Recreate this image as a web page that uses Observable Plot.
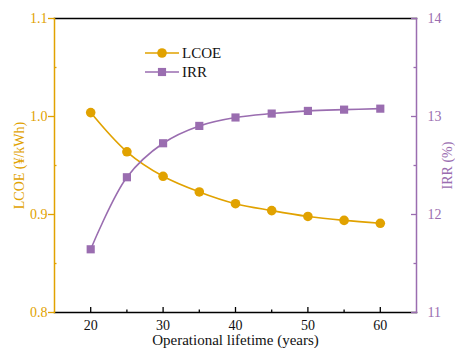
<!DOCTYPE html>
<html><head><meta charset="utf-8">
<script src="https://cdn.jsdelivr.net/npm/d3@7"></script>
<script src="https://cdn.jsdelivr.net/npm/@observablehq/plot@0.6"></script>
<style>body{margin:0;background:#fff}svg{display:block}</style>
</head><body><div id="chart"></div>
<script>
const years = [20, 25, 30, 35, 40, 45, 50, 55, 60];
const lcoe = [1.004, 0.964, 0.939, 0.923, 0.911, 0.904, 0.898, 0.894, 0.891];
const irr = [11.645, 12.38, 12.727, 12.904, 12.99, 13.03, 13.057, 13.07, 13.08];
const xTicks = [20, 30, 40, 50, 60];
const xMinor = [25, 35, 45, 55];
const lcoeTicks = [0.8, 0.9, 1.0, 1.1];
const lcoeMinor = [0.85, 0.95, 1.05];
const irrTicks = [11, 12, 13, 14];
const irrMinor = [11.5, 12.5, 13.5];
const seriesNames = ["LCOE", "IRR"];
const xLabel = "Operational lifetime (years)";
const yLabelLeft = "LCOE (¥/kWh)";
const yLabelRight = "IRR (%)";

const ORANGE = "#E1A200", PURPLE = "#9A6DB0";
const FONT = "'Liberation Serif', 'Times New Roman', serif";
const lDom = [0.8, 1.1], rDom = [11, 14];
const toL = v => lDom[0] + (v - rDom[0]) * (lDom[1] - lDom[0]) / (rDom[1] - rDom[0]);
const toR = v => rDom[0] + (v - lDom[0]) * (rDom[1] - rDom[0]) / (lDom[1] - lDom[0]);

const W = 455, H = 348, mt = 18, mr = 39, mb = 36, ml = 54;
const pw = W - ml - mr, ph = H - mt - mb;

const dataL = years.map((x, i) => ({x, y: lcoe[i]}));
const dataR = years.map((x, i) => ({x, y: toL(irr[i])}));

const plot = Plot.plot({
  width: W, height: H,
  marginTop: mt, marginRight: mr, marginBottom: mb, marginLeft: ml,
  style: {fontFamily: FONT, fontSize: "14px", background: "white"},
  x: {domain: [15, 65]},
  y: {domain: lDom},
  marks: [
    // frame
    Plot.frame({anchor: "top", stroke: "black", strokeWidth: 1.5}),
    Plot.frame({anchor: "bottom", stroke: "black", strokeWidth: 1.5}),
    Plot.frame({anchor: "left", stroke: ORANGE, strokeWidth: 1.5}),
    Plot.frame({anchor: "right", stroke: PURPLE, strokeWidth: 1.5}),
    // x axis
    Plot.axisX(xTicks, {tickSize: 0, tickPadding: 8, fill: "#111", fontSize: 14, label: null}),
    Plot.tickX(xTicks, {x: d => d, insetTop: ph - 5, stroke: "black", strokeWidth: 1.3}),
    Plot.tickX(xMinor, {x: d => d, insetTop: ph - 2.5, stroke: "black", strokeWidth: 1.3}),
    Plot.text([xLabel], {frameAnchor: "bottom", dy: 28, text: d => d, fontSize: 15, fill: "#111", textAnchor: "middle", lineAnchor: "middle"}),
    // left axis
    Plot.axisY(lcoeTicks, {anchor: "left", tickSize: 6, tickPadding: 1, stroke: ORANGE, fill: ORANGE, strokeWidth: 1.3, fontSize: 14, tickFormat: d3.format(".1f"), label: null}),
    Plot.tickY(lcoeMinor, {y: d => d, insetRight: pw - 2.5, stroke: ORANGE, strokeWidth: 1.3}),
    Plot.text([yLabelLeft], {frameAnchor: "left", dx: -35, rotate: -90, text: d => d, fill: ORANGE, fontSize: 14, textAnchor: "middle", lineAnchor: "middle"}),
    // right axis
    Plot.axisY(irrTicks.map(toL), {anchor: "right", tickSize: 0, tickPadding: 11, fill: PURPLE, fontSize: 14, tickFormat: d => String(Math.round(toR(d))), label: null}),
    Plot.tickY(irrTicks.map(toL), {y: d => d, insetLeft: pw - 5, stroke: PURPLE, strokeWidth: 1.3}),
    Plot.tickY(irrMinor.map(toL), {y: d => d, insetLeft: pw - 2.5, stroke: PURPLE, strokeWidth: 1.3}),
    Plot.text([yLabelRight], {frameAnchor: "right", dx: 31, rotate: -90, text: d => d, fill: PURPLE, fontSize: 14, textAnchor: "middle", lineAnchor: "middle"}),
    // series
    Plot.line(dataL, {x: "x", y: "y", stroke: ORANGE, strokeWidth: 1.6, curve: "catmull-rom"}),
    Plot.line(dataR, {x: "x", y: "y", stroke: PURPLE, strokeWidth: 1.6, curve: "catmull-rom"}),
    Plot.dot(dataL, {x: "x", y: "y", r: 4.8, fill: ORANGE, symbol: "circle"}),
    Plot.dot(dataR, {x: "x", y: "y", r: 4.6, fill: PURPLE, symbol: "square"})
  ]
});
document.getElementById("chart").appendChild(plot);

// legend inside the plot
const svg = d3.select(plot);
const leg = svg.append("g").attr("font-family", FONT).attr("font-size", 15).attr("text-anchor", "start");
const legColors = [ORANGE, PURPLE];
const legSymbols = [d3.symbolCircle, d3.symbolSquare];
const legSizes = [Math.PI * 4.8 * 4.8, Math.PI * 4.6 * 4.6];
seriesNames.forEach((name, i) => {
  const y = 53 + i * 19;
  const g = leg.append("g").attr("transform", `translate(0,${y})`);
  g.append("line").attr("x1", 145).attr("x2", 179).attr("y1", 0).attr("y2", 0)
    .attr("stroke", legColors[i]).attr("stroke-width", 1.6);
  g.append("path").attr("transform", "translate(162,0)")
    .attr("d", d3.symbol(legSymbols[i], legSizes[i])()).attr("fill", legColors[i]);
  g.append("text").attr("x", 182).attr("y", 0).attr("dy", "0.35em").attr("fill", "#111").text(name);
});
</script>
</body></html>
